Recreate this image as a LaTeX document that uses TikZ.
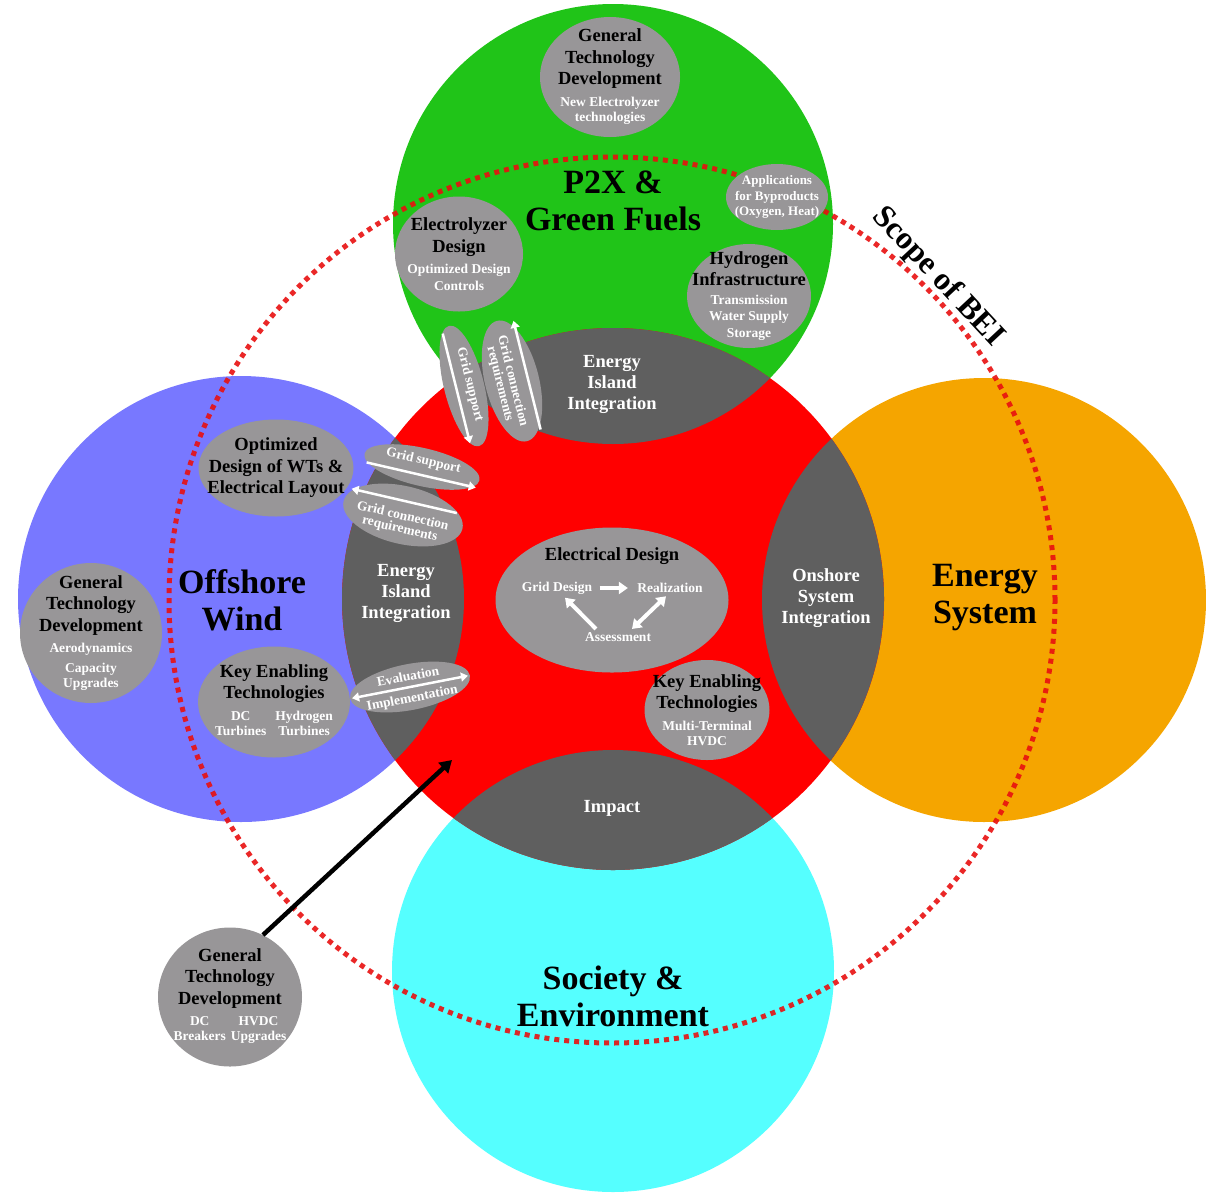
\documentclass[tikz,border=0pt]{standalone}
\usepackage{fontspec}
\setmainfont{Liberation Serif}
\usetikzlibrary{arrows.meta,shapes.geometric}

\definecolor{fuelgreen}{RGB}{32,196,24}
\definecolor{windblue}{RGB}{120,120,255}
\definecolor{systemorange}{RGB}{245,165,0}
\definecolor{societycyan}{RGB}{85,255,255}
\definecolor{islandred}{RGB}{255,0,0}
\definecolor{lensgray}{RGB}{95,95,95}
\definecolor{topicgray}{RGB}{152,150,152}
\definecolor{scopered}{RGB}{232,16,16}

\newcommand{\dt}[1]{{\color{white}\fontsize{13.5}{15}\selectfont #1}}

\begin{document}
\begin{tikzpicture}[x=1pt,y=-1pt,>={Triangle[length=7pt,width=9pt]}]
  \tikzstyle{topic}=[ellipse,fill=topicgray,inner sep=-16pt,align=center,font=\fontsize{18.5}{21.5}\selectfont\bfseries]
  \tikzstyle{lens label}=[text=white,align=center,font=\fontsize{18.5}{21}\selectfont\bfseries]
  \tikzstyle{field title}=[align=center,font=\fontsize{34}{37}\selectfont\bfseries]
  \tikzstyle{flow}=[ellipse,fill=topicgray,inner sep=0pt]
  \tikzstyle{flow tag}=[text=white,align=center,inner sep=0pt,font=\fontsize{13.5}{13}\selectfont\bfseries]
  \tikzstyle{white arrow}=[->,draw=white,line width=2.5pt]
  \tikzstyle{cycle tag}=[text=white,font=\fontsize{13.5}{15}\selectfont\bfseries]
  \tikzstyle{cycle arrow}=[->,draw=white,line width=4pt,>={Triangle[length=9pt,width=12pt]}]

  \useasboundingbox (0,0) rectangle (1206,1194);
  \clip (0,0) rectangle (1206,1194);

  \coordinate (core)    at (613,599);
  \coordinate (p2x)     at (613,224);
  \coordinate (wind)    at (241,599);
  \coordinate (system)  at (984,600);
  \coordinate (society) at (613,971);

  \fill[fuelgreen]    (p2x)     circle[radius=220pt];
  \fill[windblue]     (wind)    circle[radius=223pt];
  \fill[systemorange] (system)  circle[radius=222pt];
  \fill[societycyan]  (society) circle[radius=221pt];
  \fill[islandred]    (core)    circle[radius=271pt];
  \begin{scope}
    \clip (core) circle[radius=271pt];
    \fill[lensgray] (p2x) circle[radius=220pt] (wind) circle[radius=223pt]
                    (system) circle[radius=222pt] (society) circle[radius=221pt];
  \end{scope}

  \draw[scopered,draw opacity=0.9,line width=5pt,dash pattern=on 5pt off 5pt] (612,600) circle[radius=443pt];

  \node[field title] (p2xT)     at (613,201) {P2X \&\\Green Fuels};
  \node[field title] (windT)    at (242,600) {Offshore\\Wind};
  \node[field title] (systemT)  at (985,598) {Energy\\System};
  \node[field title] (societyT) at (613,996) {Society \&\\Environment};
  \node[font=\fontsize{32}{32}\selectfont\bfseries,rotate=-47] (bei) at (938,277) {Scope of BEI};

  \node[lens label] (eiTop)   at (612,384) {Energy\\Island\\Integration};
  \node[lens label] (eiLeft)  at (406,593) {Energy\\Island\\Integration};
  \node[lens label] (onshore) at (826,598) {Onshore\\System\\Integration};
  \node[lens label] (impact)  at (612,808) {Impact};

  \node[topic,minimum width=140pt,minimum height=120pt] (gtdP)    at (610,77)  {General\\Technology\\Development\\\dt{New Electrolyzer}\\[-6pt]\dt{technologies}};
  \node[topic,minimum width=102pt,minimum height=66pt,text=white,font=\fontsize{13}{15.5}\selectfont\bfseries] (byprod) at (777,197) {Applications\\for Byproducts\\(Oxygen, Heat)};
  \node[topic,minimum width=128pt,minimum height=115pt] (elyz)    at (459,254) {Electrolyzer\\Design\\\dt{Optimized Design}\\[-5pt]\dt{Controls}};
  \node[topic,minimum width=124pt,minimum height=104pt] (h2infra) at (749,296) {Hydrogen\\Infrastructure\\[-3pt]\dt{Transmission}\\[-5pt]\dt{Water Supply}\\[-5pt]\dt{Storage}};

  \node[topic,minimum width=155pt,minimum height=97pt]  (wtLayout) at (276,468) {Optimized\\Design of WTs \&\\Electrical Layout};
  \node[topic,minimum width=142pt,minimum height=140pt] (gtdW)     at (91,633)  {General\\Technology\\Development\\\dt{Aerodynamics}\\[-2pt]\dt{Capacity}\\[-6pt]\dt{Upgrades}};
  \node[topic,minimum width=152pt,minimum height=111pt] (ketW)     at (274,702) {Key Enabling\\Technologies\\\dt{\begin{tabular}[t]{@{}c@{\hspace{9pt}}c@{}}DC&Hydrogen\\Turbines&Turbines\end{tabular}}};
  \node[topic,minimum width=125pt,minimum height=100pt] (ketC)     at (707,710) {Key Enabling\\Technologies\\\dt{Multi-Terminal}\\[-6pt]\dt{HVDC}};

  \node[topic,minimum width=233pt,minimum height=145pt] (elDesign) at (612,600) {};
  \node[font=\fontsize{18.5}{21}\selectfont\bfseries] (elTitle) at (612,556) {Electrical Design};
  \node[cycle tag] (gridDes) at (557,588) {Grid Design};
  \node[cycle tag] (realize) at (670,588) {Realization};
  \node[cycle tag] (assess)  at (618,637) {Assessment};
  \draw[cycle arrow,shorten <=4pt,shorten >=6pt] (gridDes) -- (realize);
  \draw[cycle arrow] ([xshift=-22pt]assess.north) -- ([xshift=8pt]gridDes.south);
  \draw[cycle arrow,<->] ([xshift=-4pt]realize.south) -- ([xshift=14pt]assess.north);

  \node[topic,minimum width=144pt,minimum height=139pt] (gtdB) at (230,997) {General\\Technology\\Development\\\dt{\begin{tabular}[t]{@{}c@{\hspace{5pt}}c@{}}DC&HVDC\\Breakers&Upgrades\end{tabular}}};
  \coordinate (coreHit) at (452,760);
  \draw[->,line width=4.5pt,>={Triangle[length=12pt,width=14pt]}] (gtdB.62) -- (coreHit);

  \begin{scope}[shift={(464,386)},rotate=-76,transform shape]
    \node[flow,minimum width=124pt,minimum height=40pt] (gsP) at (0,0) {};
    \node[flow tag] (gsPtag) at (0,-6) {Grid support};
    \coordinate (gsPa) at (-56,8);
    \coordinate (gsPb) at (57,8);
    \draw[white arrow] (gsPa) -- (gsPb);
  \end{scope}
  \begin{scope}[shift={(512,381)},rotate=-76,transform shape]
    \node[flow,minimum width=124pt,minimum height=54pt] (gcP) at (0,0) {};
    \node[flow tag] (gcPtag) at (0,6) {Grid connection\\requirements};
    \coordinate (gcPa) at (54,-16);
    \coordinate (gcPb) at (-58,-16);
    \draw[white arrow] (gcPa) -- (gcPb);
  \end{scope}
  \begin{scope}[shift={(422,467)},rotate=-13,transform shape]
    \node[flow,minimum width=118pt,minimum height=38pt] (gsW) at (0,0) {};
    \node[flow tag] (gsWtag) at (0,-6) {Grid support};
    \coordinate (gsWa) at (-55,8);
    \coordinate (gsWb) at (57,8);
    \draw[white arrow] (gsWa) -- (gsWb);
  \end{scope}
  \begin{scope}[shift={(403,515)},rotate=-13,transform shape]
    \node[flow,minimum width=122pt,minimum height=58pt] (gcW) at (0,0) {};
    \node[flow tag] (gcWtag) at (0,8) {Grid connection\\requirements};
    \coordinate (gcWa) at (52,-14);
    \coordinate (gcWb) at (-56,-14);
    \draw[white arrow] (gcWa) -- (gcWb);
  \end{scope}
  \begin{scope}[shift={(410,687)},rotate=11,transform shape]
    \node[flow,minimum width=122pt,minimum height=46pt] (evW) at (0,0) {};
    \node[flow tag] (evWtop) at (0,-11) {Evaluation};
    \node[flow tag] (evWbot) at (0,12) {Implementation};
    \coordinate (evWa) at (-59,0);
    \coordinate (evWb) at (59,0);
    \draw[white arrow,<->] (evWa) -- (evWb);
  \end{scope}
\end{tikzpicture}
\end{document}
